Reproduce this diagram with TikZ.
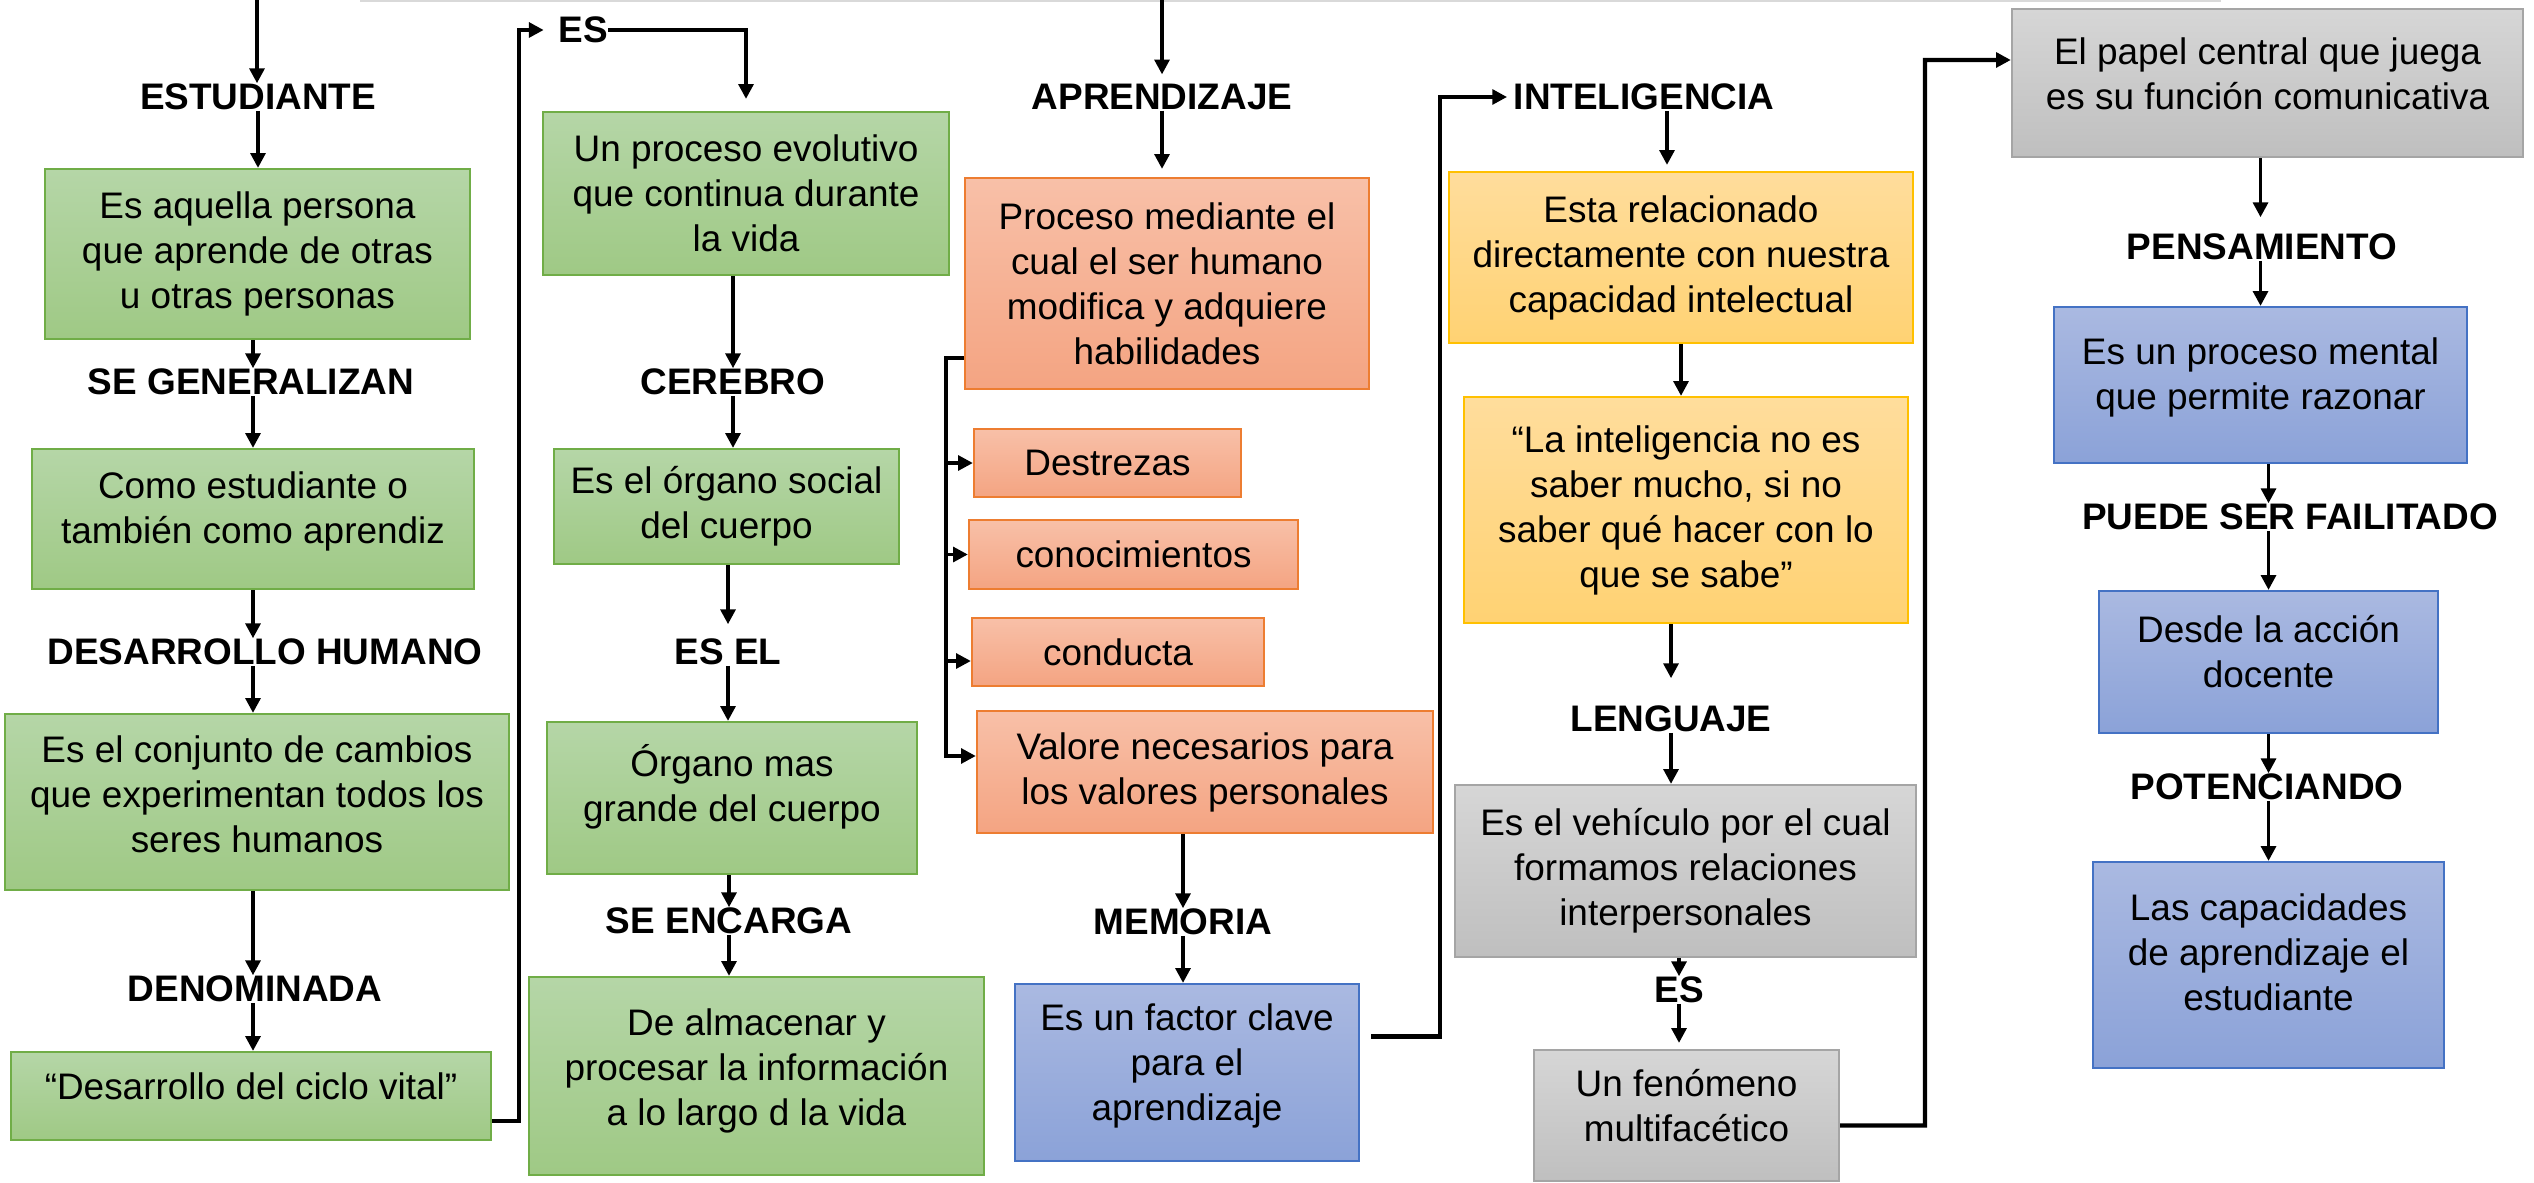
\documentclass[tikz,border=0pt]{standalone}
\usepackage{fontspec}
\setmainfont{Liberation Sans}
\usetikzlibrary{arrows.meta}

\definecolor{greentop}{HTML}{B5D6A7}
\definecolor{greenbot}{HTML}{9FC985}
\definecolor{greenline}{HTML}{70AD47}
\definecolor{orangetop}{HTML}{F8C0A8}
\definecolor{orangebot}{HTML}{F4A482}
\definecolor{orangeline}{HTML}{ED7D31}
\definecolor{yellowtop}{HTML}{FFDD9C}
\definecolor{yellowbot}{HTML}{FFD273}
\definecolor{yellowline}{HTML}{FFC000}
\definecolor{bluetop}{HTML}{AAB9E1}
\definecolor{bluebot}{HTML}{8BA2D8}
\definecolor{blueline}{HTML}{4472C4}
\definecolor{greytop}{HTML}{D6D6D6}
\definecolor{greybot}{HTML}{BFBFBF}
\definecolor{greyline}{HTML}{A5A5A5}

\newcommand{\boxfont}{\fontsize{10.5}{12.8}\selectfont}

\tikzset{
  box/.style={draw, line width=0.6pt, align=center, font=\boxfont, inner sep=1pt},
  greenbox/.style={box, draw=greenline, top color=greentop, bottom color=greenbot},
  orangebox/.style={box, draw=orangeline, top color=orangetop, bottom color=orangebot},
  yellowbox/.style={box, draw=yellowline, top color=yellowtop, bottom color=yellowbot},
  bluebox/.style={box, draw=blueline, top color=bluetop, bottom color=bluebot},
  greybox/.style={box, draw=greyline, top color=greytop, bottom color=greybot},
  lbl/.style={font=\boxfont\bfseries, inner sep=0pt},
  arr/.style={line width=1pt, -{Triangle[length=4.2pt,width=4.2pt]}},
}

\begin{document}
\begin{tikzpicture}[x=0.01cm, y=-0.01cm]
\useasboundingbox (0,0) rectangle (2534,1182);
\draw[black!15, line width=0.8pt] (360,1) -- (2221,1);

% estudiante
\coordinate (top1) at (257,0);
\node[lbl] (estud) at (258,97) {ESTUDIANTE};
\node[greenbox, minimum width=4.25cm, minimum height=1.70cm] (b11) at (257.5,254) {Es aquella persona\\que aprende de otras\\u otras personas};
\node[lbl] (segen) at (251,382) {SE GENERALIZAN};
\node[greenbox, minimum width=4.42cm, minimum height=1.40cm, text depth=0.22cm] (b12) at (253,519) {Como estudiante o\\también como aprendiz};
\node[lbl] (desh) at (265,652) {DESARROLLO HUMANO};
\node[greenbox, minimum width=5.04cm, minimum height=1.76cm, text depth=0.16cm] (b13) at (257,802) {Es el conjunto de cambios\\que experimentan todos los\\seres humanos};
\node[lbl] (denom) at (255,989) {DENOMINADA};
\node[greenbox, minimum width=4.80cm, minimum height=0.88cm, text depth=0.2cm] (b14) at (251,1096) {“Desarrollo del ciclo vital”};

\draw[arr] (top1) -- (top1 |- estud.north);
\draw[arr] (estud.south) -- (estud.south |- b11.north);
\draw[arr] (b12.north |- b11.south) -- (b12.north |- segen.north);
\draw[arr] (b12.north |- segen.south) -- (b12.north);
\draw[arr] (b12.south) -- (b12.south |- desh.north);
\draw[arr] (b12.south |- desh.south) -- (b12.south |- b13.north);
\draw[arr] (b12.south |- b13.south) -- (b12.south |- denom.north);
\draw[arr] (b12.south |- denom.south) -- (b12.south |- b14.north);

% es
\node[lbl] (es1) at (583,30) {ES};
\node[greenbox, minimum width=4.06cm, minimum height=1.63cm] (b21) at (746,193.5) {Un proceso evolutivo\\que continua durante\\la vida};
\node[lbl] (cereb) at (733,382) {CEREBRO};
\node[greenbox, minimum width=3.45cm, minimum height=1.15cm] (b22) at (726.5,506.5) {Es el órgano social\\del cuerpo};
\node[lbl] (esel) at (728,652) {ES EL};
\node[greenbox, minimum width=3.70cm, minimum height=1.52cm, text depth=0.3cm] (b23) at (732,798) {Órgano mas\\grande del cuerpo};
\node[lbl] (senc) at (729,921) {SE ENCARGA};
\node[greenbox, minimum width=4.55cm, minimum height=1.98cm, text depth=0.18cm] (b24) at (756.5,1076) {De almacenar y\\procesar la información\\a lo largo d la vida};

\coordinate (j1) at (519,30);
\draw[arr, line width=1.2pt, shorten >=0.14cm] ([yshift=-0.25cm]b14.east) -| (j1) -- (es1.west);
\draw[arr] (es1.east) -| ([yshift=0.12cm]b21.north);
\draw[arr] (b21.south -| cereb) -- (cereb.north);
\draw[arr] (cereb.south) -- (cereb.south |- b22.north);
\draw[arr] (b22.south -| esel) -- ([yshift=0.14cm]esel.north);
\draw[arr] (esel.south) -- (esel.south |- b23.north);
\draw[arr] (b23.south -| senc) -- (senc.north);
\draw[arr] (senc.south) -- (senc.south |- b24.north);

% aprendizaje
\coordinate (top2) at (1162,0);
\node[lbl] (apren) at (1162,97) {APRENDIZAJE};
\node[orangebox, minimum width=4.04cm, minimum height=2.11cm] (b31) at (1167,283.5) {Proceso mediante el\\cual el ser humano\\modifica y adquiere\\habilidades};
\node[orangebox, minimum width=2.67cm, minimum height=0.68cm] (b32) at (1107.5,463) {Destrezas};
\node[orangebox, minimum width=3.29cm, minimum height=0.69cm] (b33) at (1133.5,554.5) {conocimientos};
\node[orangebox, minimum width=2.92cm, minimum height=0.68cm] (b34) at (1118,652) {conducta};
\node[orangebox, minimum width=4.56cm, minimum height=1.22cm] (b35) at (1205,772) {Valore necesarios para\\los valores personales};
\node[lbl] (memo) at (1183,922) {MEMORIA};
\node[bluebox, minimum width=3.44cm, minimum height=1.77cm, text depth=0.2cm] (b36) at (1187,1072.5) {Es un factor clave\\para el\\aprendizaje};

\draw[arr] (top2) -- ([yshift=0.09cm]apren.north);
\draw[arr] (apren.south) -- ([yshift=0.08cm]apren.south |- b31.north);
\coordinate (brk) at (946,358);
\draw[arr] (b31.west |- brk) -- (brk) |- ([yshift=0.16cm]b35.west);
\draw[arr] (brk |- b32.west) -- (b32.west);
\draw[arr] (brk |- b33.west) -- (b33.west);
\draw[arr] ([yshift=-0.09cm]b34.west -| brk) -- ([yshift=-0.09cm]b34.west);
\draw[arr] (b35.south -| memo) -- (memo.north);
\draw[arr] (memo.south) -- (memo.south |- b36.north);

% inteligencia
\node[lbl] (intel) at (1644,97) {INTELIGENCIA};
\node[yellowbox, minimum width=4.64cm, minimum height=1.71cm] (b41) at (1681,257.5) {Esta relacionado\\directamente con nuestra\\capacidad intelectual};
\node[yellowbox, minimum width=4.44cm, minimum height=2.26cm] (b42) at (1686,510) {“La inteligencia no es\\saber mucho, si no\\saber qué hacer con lo\\que se sabe”};
\node[lbl] (lengu) at (1671,719) {LENGUAJE};
\node[greybox, minimum width=4.61cm, minimum height=1.72cm] (b43) at (1685.5,871) {Es el vehículo por el cual\\formamos relaciones\\interpersonales};
\node[lbl] (es2) at (1679,990) {ES};
\node[greybox, minimum width=3.05cm, minimum height=1.31cm, text depth=0.2cm] (b44) at (1686.5,1115.5) {Un fenómeno\\multifacético};

\coordinate (j3) at (1440,97);
\draw[arr, line width=1.2pt, shorten >=0.06cm] ([xshift=0.11cm, yshift=0.36cm]b36.east) -| (j3) -- (intel.west);
\draw[arr] ([xshift=-0.14cm]b41.north |- intel.south) -- ([xshift=-0.14cm, yshift=0.06cm]b41.north);
\draw[arr] (b41.south) -- (b41.south |- b42.north);
\draw[arr] (b42.south -| lengu) -- ([yshift=0.27cm]lengu.north);
\draw[arr] (lengu.south) -- (lengu.south |- b43.north);
\draw[arr] (b43.south -| es2) -- (es2.north);
\draw[arr] (es2.south) -- ([yshift=0.06cm]es2.south |- b44.north);

% lenguaje y pensamiento
\node[greybox, minimum width=5.11cm, minimum height=1.48cm, text depth=0.18cm] (b51) at (2267.5,83) {El papel central que juega\\es su función comunicativa};
\node[lbl] (pensa) at (2262,247) {PENSAMIENTO};
\node[bluebox, minimum width=4.13cm, minimum height=1.56cm, text depth=0.22cm] (b52) at (2260.5,385) {Es un proceso mental\\que permite razonar};
\node[lbl] (puede) at (2290,517) {PUEDE SER FAILITADO};
\node[bluebox, minimum width=3.39cm, minimum height=1.42cm, text depth=0.22cm] (b53) at (2268.5,662) {Desde la acción\\docente};
\node[lbl] (poten) at (2267,787) {POTENCIANDO};
\node[bluebox, minimum width=3.51cm, minimum height=2.06cm, text depth=0.26cm] (b54) at (2268.5,965) {Las capacidades\\de aprendizaje el\\estudiante};

\coordinate (j4) at (1925,60);
\draw[arr, line width=1.2pt] ([yshift=-0.10cm]b44.east) -| (j4) -- ([yshift=0.23cm]b51.west);
\draw[arr] (b51.south -| b52.north) -- ([yshift=0.16cm]b52.north |- pensa.north);
\draw[arr] (b52.north |- pensa.south) -- (b52.north);
\draw[arr] (b52.south -| b53.north) -- (b53.north |- puede.north);
\draw[arr] (b53.north |- puede.south) -- (b53.north);
\draw[arr] (b53.south) -- (b53.south |- poten.north);
\draw[arr] (poten.south -| b54.north) -- (b54.north);
\end{tikzpicture}
\end{document}
